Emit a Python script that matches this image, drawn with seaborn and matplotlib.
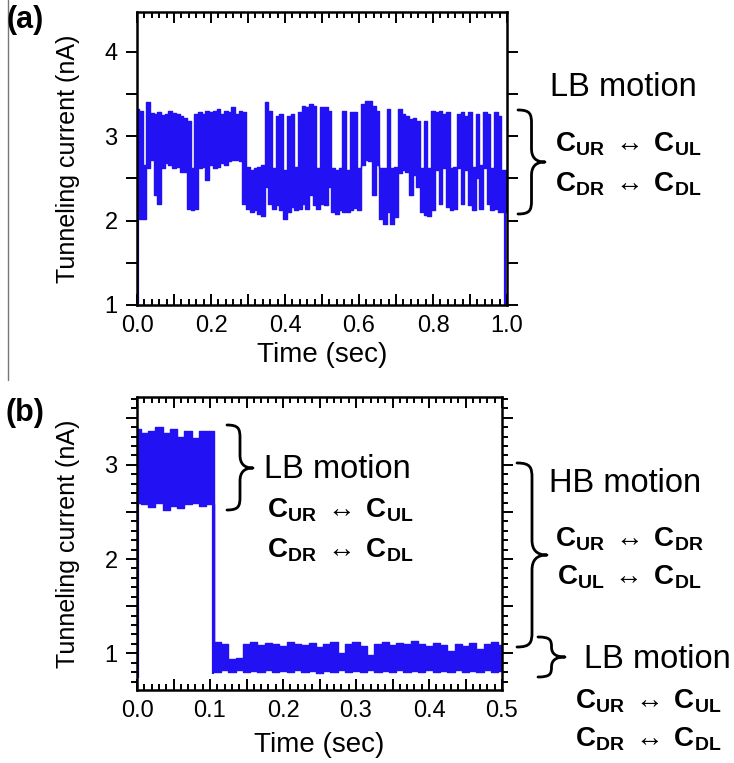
import numpy as np
import pandas as pd
import matplotlib
matplotlib.use("Agg")
import matplotlib.pyplot as plt
import seaborn as sns
from matplotlib.path import Path
from matplotlib.patches import PathPatch
from matplotlib.lines import Line2D
from matplotlib.ticker import MultipleLocator, FuncFormatter

# ---------------- data ----------------
# panel (a): envelope of the telegraph-noise trace, sampled every 10 ms
time_a = np.round(np.arange(0, 101) * 0.01, 2)
lo_a = [2.05, 2.02, 2.02, 2.62, 2.72, 2.30, 2.20, 2.62, 2.68, 2.66,
        2.62, 2.64, 2.58, 2.58, 2.14, 2.12, 2.14, 2.62, 2.64, 2.48,
        2.66, 2.62, 2.64, 2.68, 2.66, 2.70, 2.72, 2.72, 2.70, 2.20,
        2.14, 2.10, 2.12, 2.08, 2.05, 2.40, 2.20, 2.14, 2.18, 2.12,
        2.02, 2.10, 2.16, 2.12, 2.14, 2.20, 2.14, 2.30, 2.18, 2.14,
        2.20, 2.18, 2.40, 2.10, 2.08, 2.12, 2.10, 2.10, 2.12, 2.15,
        2.12, 2.66, 2.72, 2.70, 2.30, 2.66, 2.02, 1.96, 2.10, 1.96,
        2.04, 2.56, 2.60, 2.58, 2.30, 2.54, 2.40, 2.10, 2.06, 2.05,
        2.12, 2.60, 2.20, 2.62, 2.16, 2.12, 2.14, 2.62, 2.20, 2.60,
        2.18, 2.12, 2.50, 2.14, 2.62, 2.20, 2.12, 2.14, 2.10, 2.10,
        2.10]
hi_a = [3.32, 3.30, 2.66, 3.40, 3.27, 3.26, 3.28, 3.25, 3.26, 3.30,
        3.27, 3.26, 3.24, 3.22, 3.18, 2.62, 3.26, 3.28, 3.26, 3.30,
        3.28, 3.30, 3.32, 3.26, 3.30, 3.28, 3.34, 3.26, 3.30, 3.28,
        2.64, 2.60, 2.62, 2.64, 2.66, 3.40, 3.30, 2.62, 3.24, 3.26,
        2.60, 3.24, 3.26, 2.64, 3.28, 3.36, 3.34, 3.38, 3.36, 2.62,
        3.34, 3.34, 3.30, 2.62, 2.60, 2.62, 3.30, 2.60, 3.28, 3.28,
        2.62, 3.38, 3.42, 3.42, 3.36, 3.30, 2.62, 2.62, 3.32, 2.62,
        2.64, 3.32, 3.26, 3.24, 3.20, 3.22, 3.18, 2.62, 3.18, 2.62,
        3.30, 3.28, 3.30, 3.26, 3.28, 2.62, 2.64, 3.26, 3.28, 3.24,
        3.28, 2.64, 3.26, 2.66, 3.28, 3.26, 2.62, 3.28, 3.24, 2.60,
        2.60]
spike_t_a = [0.003, 0.995]
spike_lo_a = [1.00, 1.00]
spike_hi_a = [3.30, 2.60]

# panel (b)
time_b = np.round(np.arange(0, 51) * 0.01, 2)
lo_b = [2.60, 2.58, 2.55, 2.60, 2.52, 2.56, 2.54, 2.58, 2.60, 2.56, 2.58,
        0.80, 0.82, 0.80, 0.82, 0.80, 0.81, 0.80, 0.82, 0.80, 0.81,
        0.80, 0.82, 0.80, 0.81, 0.79, 0.81, 0.80, 0.82, 0.80, 0.81,
        0.80, 0.82, 0.80, 0.81, 0.80, 0.82, 0.80, 0.81, 0.80, 0.82,
        0.80, 0.81, 0.80, 0.82, 0.80, 0.81, 0.80, 0.82, 0.80, 0.81]
hi_b = [3.38, 3.34, 3.36, 3.40, 3.34, 3.38, 3.30, 3.36, 3.28, 3.36, 3.36,
        1.12, 1.10, 0.94, 0.95, 1.10, 1.12, 1.09, 1.11, 1.10, 1.08,
        1.12, 1.10, 1.09, 1.11, 1.07, 1.10, 1.12, 1.00, 1.10, 1.12,
        1.08, 0.98, 1.10, 1.12, 1.09, 1.11, 1.10, 1.13, 1.10, 1.08,
        1.11, 1.09, 1.02, 1.10, 1.08, 1.11, 1.05, 1.10, 1.12, 1.09]
spike_t_b = [0.002, 0.104]
spike_lo_b = [0.74, 0.78]
spike_hi_b = [3.36, 3.30]

xticks_a = [0.0, 0.2, 0.4, 0.6, 0.8, 1.0]
xticks_b = [0.0, 0.1, 0.2, 0.3, 0.4, 0.5]

# ---------------- style ----------------
sns.set_theme(style="white")
plt.rcParams["font.family"] = ["Liberation Sans", "DejaVu Sans"]
plt.rcParams["mathtext.fontset"] = "custom"
plt.rcParams["mathtext.rm"] = "Liberation Sans"
plt.rcParams["mathtext.bf"] = "Liberation Sans:bold"
plt.rcParams["mathtext.it"] = "Liberation Sans:italic"
for k in ["text.color", "axes.labelcolor", "xtick.color", "ytick.color"]:
    plt.rcParams[k] = "black"

BLUE = "#2211f2"
W, H = 734, 763
fig = plt.figure(figsize=(W / 100, H / 100), dpi=100)
fig.patch.set_facecolor("white")

axa = fig.add_axes([137 / W, 1 - 305 / H, 370 / W, 293 / H])
axb = fig.add_axes([137 / W, 1 - 690 / H, 365 / W, 293 / H])


def draw_trace(ax, t, lo, hi, st, slo, shi):
    df = pd.DataFrame({"t": t, "lo": lo, "hi": hi})
    ax.fill_between(df["t"], df["lo"], df["hi"], step="mid", color=BLUE, lw=0)
    sns.lineplot(data=df, x="t", y="hi", ax=ax, color=BLUE, lw=1.0,
                 drawstyle="steps-mid", estimator=None)
    sns.lineplot(data=df, x="t", y="lo", ax=ax, color=BLUE, lw=1.0,
                 drawstyle="steps-mid", estimator=None)
    ax.vlines(st, slo, shi, color=BLUE, lw=1.6)


draw_trace(axa, time_a, lo_a, hi_a, spike_t_a, spike_lo_a, spike_hi_a)
draw_trace(axb, time_b, lo_b, hi_b, spike_t_b, spike_lo_b, spike_hi_b)

axa.set_xlim(0, 1.0)
axa.set_ylim(1.0, 4.47)
axb.set_xlim(0, 0.5)
axb.set_ylim(0.61, 3.72)


def int_fmt(v, pos):
    return f"{int(round(v))}" if abs(v - round(v)) < 1e-6 else ""


def make_xfmt(ticks):
    def f(v, pos):
        for tk in ticks:
            if abs(v - tk) < 1e-6:
                return f"{tk:.1f}"
        return ""
    return f


for ax, xmaj, xmin, ymin, xt in [(axa, 0.1, 0.02, None, xticks_a),
                                 (axb, 0.05, 0.01, 0.1, xticks_b)]:
    ax.xaxis.set_major_locator(MultipleLocator(xmaj))
    ax.xaxis.set_minor_locator(MultipleLocator(xmin))
    ax.xaxis.set_major_formatter(FuncFormatter(make_xfmt(xt)))
    ax.yaxis.set_major_locator(MultipleLocator(0.5))
    if ymin:
        ax.yaxis.set_minor_locator(MultipleLocator(ymin))
    ax.yaxis.set_major_formatter(FuncFormatter(int_fmt))
    ax.tick_params(axis="x", which="both", direction="in", top=True, bottom=True,
                   color="black", width=1.4, labelsize=17, pad=7)
    ax.tick_params(axis="x", which="major", length=8)
    ax.tick_params(axis="x", which="minor", length=4)
    ax.tick_params(axis="y", which="both", direction="out", left=True, right=True,
                   color="black", width=1.4, labelsize=17, pad=6)
    ax.tick_params(axis="y", which="major", length=8)
    ax.tick_params(axis="y", which="minor", length=4)
    for s in ax.spines.values():
        s.set_color("black")
        s.set_linewidth(1.8)
    ax.set_xlabel("Time (sec)", fontsize=20)
    ax.set_ylabel("Tunneling current (nA)", fontsize=18)

axa.xaxis.set_label_coords(0.5, -0.125)
axb.xaxis.set_label_coords(0.5, -0.145)
axa.yaxis.set_label_coords((80 - 137) / 370, 0.5)
axb.yaxis.set_label_coords((80 - 137) / 365, 0.5)


# ---------------- annotations ----------------
def ftext(x, y, s, size, **kw):
    fig.text(x / W, 1 - y / H, s, fontsize=size, ha="center", va="center", **kw)


def brace(x0, ytop, ybot, w, ymid=None, lw=2.0):
    if ymid is None:
        ymid = (ytop + ybot) / 2
    xm = x0 + w / 2
    r = min(w / 2, (ybot - ytop) / 4)
    pts = [(x0, ytop),
           (x0 + w * 0.45, ytop), (xm, ytop + r * 0.3), (xm, ytop + r),
           (xm, ymid - r),
           (xm, ymid - r * 0.35), (xm + w * 0.15, ymid), (x0 + w, ymid),
           (xm + w * 0.15, ymid), (xm, ymid + r * 0.35), (xm, ymid + r),
           (xm, ybot - r),
           (xm, ybot - r * 0.3), (x0 + w * 0.45, ybot), (x0, ybot)]
    codes = [Path.MOVETO] + [Path.CURVE4] * 3 + [Path.LINETO] + [Path.CURVE4] * 6 + \
            [Path.LINETO] + [Path.CURVE4] * 3
    verts = [(px / W, 1 - py / H) for px, py in pts]
    patch = PathPatch(Path(verts, codes), transform=fig.transFigure, fill=False,
                      lw=lw, ec="black", capstyle="round", joinstyle="round")
    fig.add_artist(patch)


def eq(a, b):
    return (r"$\mathbf{C}_{\mathbf{" + a + r"}}\;\leftrightarrow\;\mathbf{C}_{\mathbf{"
            + b + r"}}$")


EQ = 20
LB = 23.5

# panel (a)
brace(518, 110, 214, 27, 162)
ftext(623, 88, "LB motion", LB)
ftext(628, 144, eq("UR", "UL"), EQ)
ftext(628, 184, eq("DR", "DL"), EQ)

# panel (b)
brace(227, 425, 510, 26, 468)
ftext(337, 469, "LB motion", LB)
ftext(340, 510, eq("UR", "UL"), EQ)
ftext(340, 550, eq("DR", "DL"), EQ)

brace(517, 463, 647, 30, 555)
ftext(625, 483, "HB motion", LB)
ftext(629, 539, eq("UR", "DR"), EQ)
ftext(629, 577, eq("UL", "DL"), EQ)

brace(538, 637, 677, 27, 657)
ftext(657, 660, "LB motion", LB)
ftext(648, 701, eq("UR", "UL"), EQ)
ftext(648, 739, eq("DR", "DL"), EQ)

# panel letters
ftext(25, 20, "(a)", 22, fontweight="bold")
ftext(25, 413, "(b)", 22, fontweight="bold")

# thin grey rule at the left edge of the upper panel
fig.add_artist(Line2D([8 / W, 8 / W], [1.0, 1 - 380 / H], transform=fig.transFigure,
                      color="#777777", lw=1.0))

fig.savefig("out.png", dpi=100, facecolor="white")
